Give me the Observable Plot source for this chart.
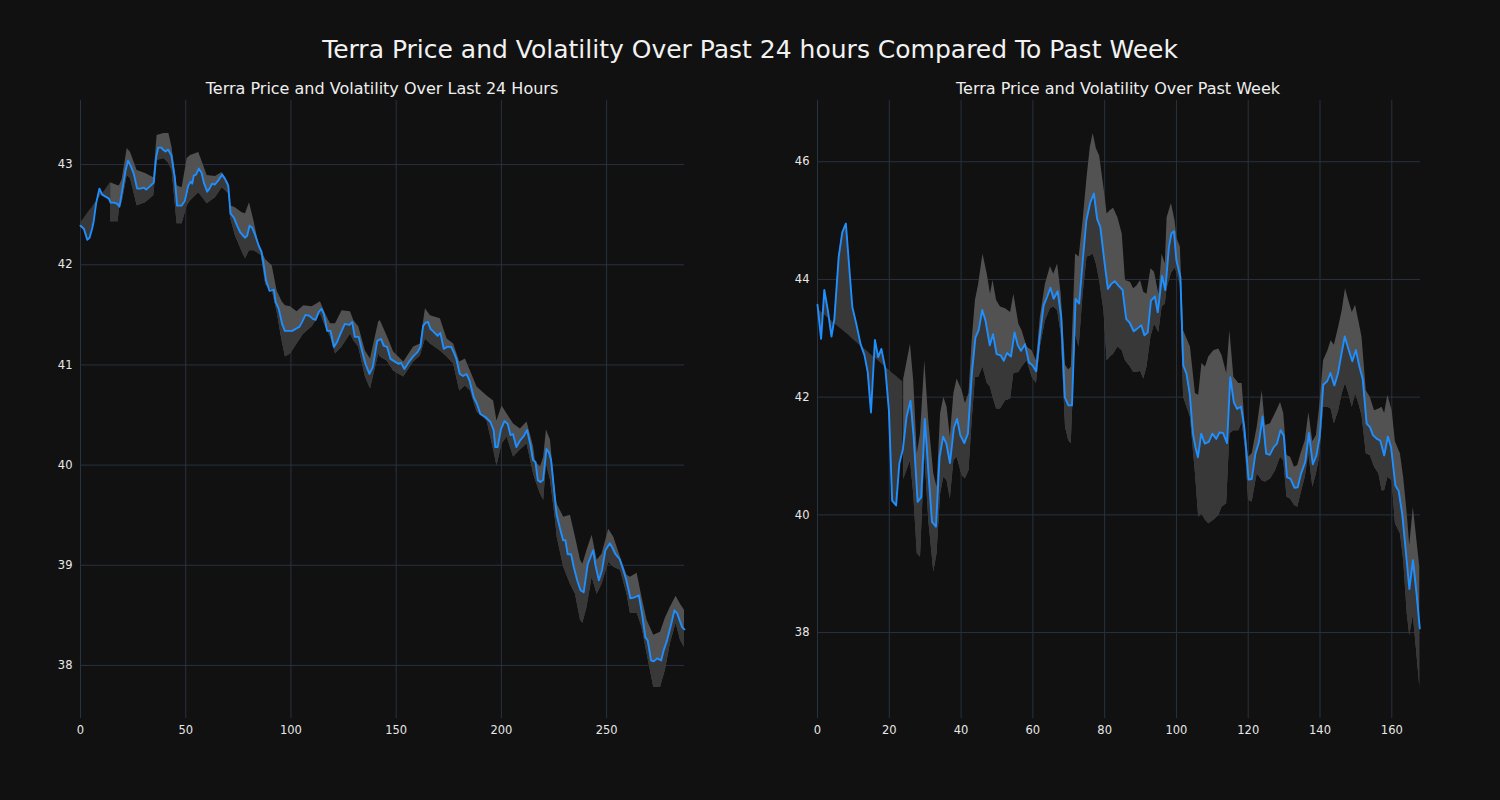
<!DOCTYPE html>
<html>
<head>
<meta charset="utf-8">
<script src="https://cdn.jsdelivr.net/npm/d3@7"></script>
<script src="https://cdn.jsdelivr.net/npm/@observablehq/plot@0.6"></script>
<style>
  html, body { margin: 0; padding: 0; background: #111111; }
  body { width: 1500px; height: 800px; position: relative; overflow: hidden; font-family: "DejaVu Sans", sans-serif; }
  .title { position: absolute; left: 0; width: 1500px; top: 35px; text-align: center; color: #f2f2f2; font-size: 25px; line-height: 30px; }
  .sub { position: absolute; top: 79px; width: 700px; text-align: center; color: #eeeeee; font-size: 16px; line-height: 20px; }
  .panel { position: absolute; top: 90px; }
</style>
</head>
<body>
<div class="title">Terra Price and Volatility Over Past 24 hours Compared To Past Week</div>
<div class="sub" style="left:32px">Terra Price and Volatility Over Last 24 Hours</div>
<div class="sub" style="left:768px">Terra Price and Volatility Over Past Week</div>
<div id="left" class="panel" style="left:0px"></div>
<div id="right" class="panel" style="left:737px"></div>
<script>
// ---------- Last 24 hours (5-minute steps) ----------
const dayX = [
  0,1.6,3.2,4.3,5.5,6.3,7.4,9.0,10.3,11.9,
  13.5,14.3,15.8,17.4,18.5,19.8,21.4,22.6,23.8,25.3,
  26.9,28.5,30.1,31.2,32.8,34.8,35.9,36.9,38.5,39.1,
  40.4,41.6,43.2,44.8,45.9,48.0,49.6,51.2,52.3,53.1,
  53.8,54.9,56.2,57.5,58.6,60.2,61.3,62.5,63.8,65.4,
  67.3,68.6,70.2,71.3,72.9,74.4,76.0,78.1,79.2,80.3,
  81.6,83.1,84.7,86.0,87.1,88.2,89.8,91.9,92.7,94.2,
  95.8,97.1,99.0,100.6,102.2,104.0,105.3,106.9,108.8,110.4,
  111.7,113.2,114.5,115.6,117.2,118.8,120.4,121.9,123.5,125.6,
  127.8,129.1,130.3,132.2,133.8,135.4,137.3,138.9,141.0,142.8,
  144.1,145.7,147.3,148.8,151.2,152.3,153.9,156.0,158.3,160.2,
  161.5,162.8,163.9,165.1,166.3,167.8,169.7,171.0,172.6,174.2,
  176.1,177.3,178.6,180.2,181.8,183.4,184.9,186.8,188.4,190.0,
  192.4,194.8,196.3,197.1,198.2,199.8,201.4,203.0,204.3,205.5,
  207.1,209.0,210.6,212.2,213.8,215.0,216.2,217.3,218.6,219.8,
  221.4,222.5,223.6,224.9,226.2,227.7,229.3,230.4,231.5,233.1,
  234.4,236.0,237.6,239.1,241.0,242.3,243.6,244.7,246.3,247.8,
  249.4,251.5,252.6,254.2,256.2,257.8,259.4,261.3,263.2,265.3,
  266.8,268.4,269.5,271.1,272.4,274.0,275.9,277.1,278.7,280.3,
  282.2,283.5,284.7,285.9,287.0
];
const dayPrice = [
  42.39,42.36,42.25,42.27,42.36,42.44,42.61,42.76,42.70,42.68,
  42.66,42.62,42.62,42.61,42.58,42.74,42.94,43.04,42.99,42.91,
  42.76,42.76,42.77,42.75,42.78,42.82,43.07,43.17,43.17,43.15,
  43.13,43.15,43.09,42.87,42.59,42.59,42.64,42.79,42.83,42.81,
  42.89,42.90,42.96,42.92,42.82,42.73,42.76,42.81,42.80,42.84,
  42.90,42.86,42.79,42.51,42.47,42.39,42.32,42.27,42.29,42.39,
  42.37,42.29,42.19,42.13,41.99,41.84,41.74,41.75,41.63,41.56,
  41.41,41.34,41.34,41.34,41.36,41.38,41.43,41.50,41.49,41.46,
  41.45,41.53,41.56,41.51,41.34,41.34,41.18,41.23,41.31,41.41,
  41.40,41.43,41.28,41.28,41.14,41.01,40.91,40.98,41.24,41.26,
  41.19,41.18,41.06,41.04,41.01,41.02,40.96,41.03,41.09,41.13,
  41.18,41.39,41.42,41.43,41.36,41.33,41.29,41.32,41.16,41.18,
  41.18,41.13,41.06,40.91,40.89,40.91,40.84,40.68,40.61,40.51,
  40.48,40.43,40.35,40.18,40.18,40.36,40.44,40.41,40.30,40.31,
  40.18,40.25,40.29,40.35,40.20,40.05,40.03,39.85,39.83,39.85,
  40.16,40.13,40.05,39.78,39.51,39.38,39.25,39.25,39.11,39.11,
  38.98,38.85,38.75,38.73,39.01,39.08,39.15,39.00,38.85,38.95,
  39.15,39.22,39.18,39.11,39.06,38.96,38.85,38.67,38.68,38.70,
  38.52,38.28,38.25,38.05,38.04,38.07,38.05,38.15,38.25,38.38,
  38.55,38.52,38.45,38.38,38.36
];
// straight edge of the band over the first dayX points
const dayWedge = [42.42,42.46,42.51,42.54,42.57,42.60,42.63,42.67,42.71,42.75,42.80,42.82];
const dayBandX = [
  14.3,17.9,18.5,19.8,22.2,23.8,26.9,30.9,34.8,36.4,
  39.6,42.0,43.5,45.9,48.3,50.7,52.3,56.2,60.2,64.1,
  67.3,70.5,71.3,73.6,76.8,78.4,80.3,82.4,84.7,86.0,
  88.0,91.1,93.4,95.8,97.4,99.8,102.9,106.1,110.1,114.0,
  116.4,118.8,121.2,124.3,128.3,129.9,132.2,135.4,137.8,141.7,
  142.5,145.7,148.8,153.6,158.3,161.5,163.9,166.3,171.0,174.2,
  177.3,180.2,182.9,185.3,188.4,193.2,196.3,197.9,200.3,202.7,
  205.8,209.0,212.2,215.3,216.2,218.6,220.1,221.4,223.3,225.7,
  226.5,229.6,232.8,235.2,237.6,238.7,240.7,243.1,245.5,247.8,
  251.0,253.4,256.6,259.7,261.3,264.5,266.8,269.2,272.4,275.6,
  277.9,280.3,283.0,285.1,287.0
];
const dayLow = [
  42.43,42.43,42.57,42.62,42.89,42.86,42.59,42.62,42.69,43.04,
  43.06,43.01,42.94,42.41,42.41,42.59,42.64,42.72,42.61,42.67,
  42.77,42.71,42.47,42.29,42.13,42.06,42.14,42.14,42.11,42.09,
  41.80,41.74,41.53,41.24,41.08,41.11,41.21,41.31,41.38,41.51,
  41.38,41.28,41.11,41.18,41.31,41.24,41.18,40.88,40.76,41.11,
  41.08,41.04,40.94,40.88,41.03,41.09,41.26,41.21,41.14,41.08,
  41.01,40.74,40.79,40.74,40.53,40.44,40.15,39.99,40.21,40.28,
  40.08,40.15,40.21,39.91,39.85,39.71,39.65,40.01,39.85,39.45,
  39.28,38.98,38.81,38.71,38.45,38.42,38.58,38.88,38.71,38.81,
  39.03,38.98,38.95,38.71,38.52,38.52,38.38,38.12,37.78,37.78,
  37.95,38.22,38.42,38.25,38.18
];
const dayHigh = [
  42.82,42.79,42.79,42.85,43.16,43.12,42.94,42.91,42.87,43.29,
  43.31,43.31,43.17,42.79,42.77,43.06,43.09,43.12,42.89,42.88,
  42.92,42.81,42.59,42.57,42.52,42.51,42.62,42.44,42.21,42.14,
  42.05,41.99,41.74,41.63,41.59,41.58,41.53,41.59,41.58,41.63,
  41.51,41.41,41.41,41.54,41.53,41.44,41.38,41.14,41.06,41.43,
  41.44,41.29,41.13,41.03,41.18,41.21,41.56,41.49,41.46,41.26,
  41.21,41.03,41.06,40.94,40.78,40.69,40.64,40.44,40.59,40.51,
  40.41,40.36,40.43,40.18,40.03,39.98,40.08,40.35,40.25,39.72,
  39.61,39.48,39.50,39.28,39.05,39.01,39.15,39.30,39.05,39.11,
  39.36,39.28,39.08,38.90,38.88,38.92,38.68,38.45,38.30,38.33,
  38.47,38.58,38.69,38.61,38.55
];
const dayXTicks = [0, 50, 100, 150, 200, 250];
const dayYTicks = [38, 39, 40, 41, 42, 43];

// ---------- Past week (hourly steps) ----------
const weekX = [
  0,1.0,1.9,2.9,3.9,4.7,5.9,6.9,7.9,8.7,
  9.7,10.9,12.0,13.1,14.0,14.9,16.0,16.9,17.8,18.9,
  19.9,20.8,21.9,22.8,23.8,24.8,25.9,26.8,27.9,28.9,
  29.9,31.0,31.9,33.0,34.0,35.0,35.9,36.9,38.0,38.9,
  39.8,40.9,41.9,43.0,44.0,44.9,45.9,46.8,48.0,48.9,
  49.9,51.0,51.9,52.8,53.9,54.9,55.8,56.7,57.8,58.9,
  59.9,60.9,61.9,63.0,64.0,64.9,65.8,66.9,67.9,68.9,
  69.9,70.9,71.9,72.9,73.9,74.9,76.0,77.0,77.9,78.8,
  79.9,80.9,81.8,82.8,83.9,85.0,86.0,87.0,88.1,89.0,
  90.2,91.1,92.0,92.9,94.0,94.8,96.0,96.9,97.9,98.6,
  99.3,100.0,101.1,101.9,102.8,103.7,104.6,105.3,106.0,106.9,
  107.9,109.0,110.0,111.1,112.0,113.0,114.1,115.0,116.0,116.9,
  118.0,118.9,120.1,121.0,122.0,123.0,124.0,125.0,126.0,127.1,
  128.0,129.0,129.9,130.8,131.8,132.9,133.8,134.7,135.9,136.9,
  138.0,139.0,139.9,140.9,142.0,142.9,144.0,145.0,145.9,146.9,
  148.0,149.0,150.0,151.0,151.9,153.0,153.9,154.8,155.9,156.8,
  157.9,158.9,159.8,161.0,161.9,162.9,163.8,164.9,165.9,166.9,
  167.8
];
const weekPrice = [
  43.57,42.99,43.82,43.47,43.03,43.33,44.38,44.80,44.95,44.32,
  43.53,43.22,42.90,42.71,42.42,41.74,42.97,42.68,42.82,42.48,
  41.77,40.24,40.16,40.87,41.12,41.66,41.94,41.32,40.22,40.30,
  41.63,40.64,39.88,39.80,40.98,41.33,41.21,40.88,41.48,41.63,
  41.35,41.22,41.38,42.40,43.01,43.14,43.48,43.30,42.88,43.07,
  42.73,42.71,42.62,42.75,42.69,43.10,42.88,42.79,42.90,42.59,
  42.54,42.44,43.02,43.56,43.71,43.86,43.67,43.80,43.36,42.00,
  41.86,41.86,43.67,43.59,44.32,45.00,45.31,45.46,45.03,44.89,
  44.32,43.84,43.92,43.97,43.89,43.82,43.33,43.26,43.12,43.16,
  43.22,43.05,43.10,43.64,43.71,43.44,44.06,43.82,44.55,44.78,
  44.82,44.32,44.04,42.54,42.40,42.06,41.38,41.15,40.98,41.38,
  41.21,41.24,41.38,41.29,41.40,41.39,41.22,42.34,41.91,41.80,
  41.84,41.49,40.60,40.61,41.04,41.24,41.67,41.04,41.02,41.15,
  41.21,41.44,41.35,40.64,40.61,40.46,40.47,40.70,40.90,41.39,
  40.86,41.01,41.32,42.21,42.27,42.41,42.20,42.40,42.71,43.03,
  42.80,42.61,42.80,42.51,42.31,41.55,41.49,41.35,41.29,41.26,
  41.01,41.33,41.15,40.50,40.41,40.02,39.45,38.74,39.23,38.66,
  38.07
];
// straight edge of the band over the first weekX points
const weekWedge = [
  43.50,43.45,43.40,43.35,43.30,43.25,43.19,43.14,43.09,43.05,
  42.99,42.93,42.87,42.82,42.77,42.72,42.67,42.62,42.57,42.51,
  42.46,42.41,42.36,42.31,42.26
];
const weekBandX = [
  24.0,25.9,26.8,27.8,28.7,29.9,31.0,32.4,33.3,34.3,
  35.2,36.1,37.0,38.0,38.9,40.3,41.2,42.2,43.1,44.0,
  44.9,46.1,47.3,48.2,48.9,49.9,51.0,52.4,53.8,54.7,
  56.1,57.0,58.4,59.8,61.0,62.1,63.5,64.9,65.8,66.9,
  67.9,69.1,70.0,70.7,71.9,72.9,74.0,75.1,76.0,76.8,
  77.7,78.6,79.8,80.7,81.6,82.5,83.7,84.9,85.8,87.2,
  88.1,89.0,90.0,90.9,91.8,92.9,93.9,95.1,96.0,96.9,
  97.4,98.6,99.6,100.2,101.1,102.0,103.9,105.3,106.2,107.1,
  108.1,109.0,110.4,111.8,112.7,114.0,114.9,116.0,117.4,118.3,
  119.2,120.1,121.1,122.5,123.9,124.8,126.2,127.6,129.0,129.9,
  130.8,131.8,132.9,133.8,134.7,135.9,136.9,138.0,139.0,139.9,
  141.0,142.2,143.1,144.0,145.2,146.2,147.1,148.0,149.0,149.9,
  150.8,151.7,152.9,154.0,155.2,156.4,157.3,158.0,158.9,160.1,
  161.0,162.4,163.3,164.3,165.0,166.0,166.9,167.8
];
const weekLow = [
  40.60,40.92,40.36,39.34,39.28,41.04,39.90,39.03,39.34,40.36,
  40.64,40.58,40.27,40.92,40.98,40.67,40.61,40.75,41.60,42.34,
  42.34,42.51,42.23,42.17,42.00,41.80,41.80,41.94,41.97,42.40,
  42.42,42.51,42.62,42.34,42.23,42.85,43.30,43.50,43.53,43.47,
  43.07,41.49,41.26,41.21,43.07,42.85,43.75,44.38,44.40,44.43,
  44.26,43.98,43.47,42.62,42.68,42.73,42.85,42.79,42.62,42.51,
  42.42,42.42,42.44,42.31,42.51,43.02,43.24,43.10,43.53,43.58,
  43.85,44.10,44.20,44.10,43.90,42.00,41.66,40.70,39.96,40.02,
  39.91,39.85,39.91,39.99,40.13,40.19,41.38,41.43,41.43,41.57,
  41.15,40.25,40.22,40.70,40.58,40.56,40.61,40.75,40.98,40.92,
  40.30,40.27,40.16,40.13,40.36,40.64,41.04,40.47,40.70,40.98,
  41.83,41.83,41.80,41.55,41.77,42.06,42.23,42.06,41.83,42.06,
  41.89,41.69,41.04,41.01,40.81,40.70,40.41,40.41,40.64,40.58,
  39.85,39.68,39.23,38.32,37.95,38.29,37.70,37.08
];
const weekHigh = [
  42.30,42.90,42.28,41.04,41.38,42.62,41.60,40.70,40.47,41.72,
  42.00,41.83,41.32,42.06,42.31,42.11,41.89,42.06,42.96,43.64,
  43.92,44.43,44.09,43.75,43.98,43.64,43.53,43.50,43.44,43.75,
  43.24,43.13,42.85,42.79,42.62,43.36,43.92,44.22,44.09,44.26,
  43.75,42.54,42.46,42.51,44.43,44.38,45.00,45.73,46.24,46.48,
  46.22,46.10,45.56,45.11,45.17,45.21,45.05,44.77,43.98,43.95,
  43.84,43.89,43.98,43.78,43.75,44.18,44.12,43.75,44.43,44.26,
  45.05,45.29,45.00,44.69,44.55,43.13,42.85,42.06,42.03,42.57,
  42.51,42.68,42.79,42.82,42.71,42.40,43.13,42.34,42.23,42.23,
  41.49,40.98,41.04,41.49,42.11,41.52,41.55,41.72,41.91,41.72,
  41.01,40.98,40.81,40.84,41.04,41.26,41.74,41.24,41.35,41.83,
  42.62,42.79,42.96,42.88,43.19,43.47,43.84,43.64,43.44,43.56,
  43.30,43.02,42.11,42.00,41.77,41.80,41.83,41.72,42.03,41.77,
  41.24,41.04,40.64,40.02,39.48,40.13,39.62,39.11
];
const weekXTicks = [0, 20, 40, 60, 80, 100, 120, 140, 160];
const weekYTicks = [38, 40, 42, 44, 46];

// ---------- drawing ----------
const GRID = "#29323e";
const LINE = "#1f8fff";
const LIGHT = "#525252";
const DARK = "#383838";

function panel(cfg) {
  const line = cfg.x.map((x, i) => ({x, y: cfg.price[i]}));
  const band = cfg.bandX.map((x, i) => ({x, lo: cfg.low[i], hi: cfg.high[i]}));
  const wedge = cfg.wedge.map((d, i) => ({x: cfg.x[i], a: cfg.price[i], b: d}));
  const svg = Plot.plot({
    width: 700,
    height: 668,
    marginTop: 10,
    marginBottom: 40,
    marginLeft: 80,
    marginRight: cfg.marginRight,
    style: {background: "transparent", color: "#e8e8e8", fontFamily: "DejaVu Sans, sans-serif", fontSize: "11.5px"},
    x: {domain: cfg.xDomain, ticks: cfg.xTicks, tickSize: 0, tickPadding: 7, label: null, tickFormat: d3.format("d")},
    y: {domain: cfg.yDomain, ticks: cfg.yTicks, tickSize: 0, tickPadding: 8, label: null, tickFormat: d3.format("d")},
    marks: [
      Plot.ruleX(cfg.xTicks, {stroke: GRID, strokeWidth: 1}),
      Plot.ruleY(cfg.yTicks, {stroke: GRID, strokeWidth: 1}),
      Plot.areaY(band, {x: "x", y1: "lo", y2: "hi", fill: LIGHT, curve: "linear"}),
      Plot.areaY(band, {x: "x", y1: "lo", y2: "hi", fill: DARK, curve: "linear", ariaDescription: "darkband"}),
      Plot.areaY(line, {x: "x", y1: cfg.yDomain[0], y2: "y", fill: "black", curve: "linear", ariaDescription: "clipshape"}),
      Plot.areaY(wedge, {x: "x", y1: "a", y2: "b", fill: DARK, curve: "linear"}),
      Plot.lineY(line, {x: "x", y: "y", stroke: LINE, strokeWidth: 1.9, curve: "linear"})
    ]
  });
  // clip the darker half of the band to the region below the price line
  const ns = "http://www.w3.org/2000/svg";
  const cg = svg.querySelector('g[aria-description="clipshape"]');
  const dg = svg.querySelector('g[aria-description="darkband"]');
  if (cg && dg) {
    const defs = document.createElementNS(ns, "defs");
    const cp = document.createElementNS(ns, "clipPath");
    cp.setAttribute("id", cfg.id + "-clip");
    cg.querySelectorAll("path").forEach(p => {
      const q = p.cloneNode();
      q.removeAttribute("fill");
      cp.appendChild(q);
    });
    defs.appendChild(cp);
    svg.insertBefore(defs, svg.firstChild);
    dg.setAttribute("clip-path", `url(#${cfg.id}-clip)`);
    cg.remove();
  }
  document.getElementById(cfg.id).appendChild(svg);
}

panel({
  id: "left", x: dayX, price: dayPrice, wedge: dayWedge,
  bandX: dayBandX, low: dayLow, high: dayHigh,
  xDomain: [0, 287], yDomain: [37.47, 43.64],
  xTicks: dayXTicks, yTicks: dayYTicks, marginRight: 16
});
panel({
  id: "right", x: weekX, price: weekPrice, wedge: weekWedge,
  bandX: weekBandX, low: weekLow, high: weekHigh,
  xDomain: [0, 168], yDomain: [36.54, 47.04],
  xTicks: weekXTicks, yTicks: weekYTicks, marginRight: 17
});
</script>
</body>
</html>
